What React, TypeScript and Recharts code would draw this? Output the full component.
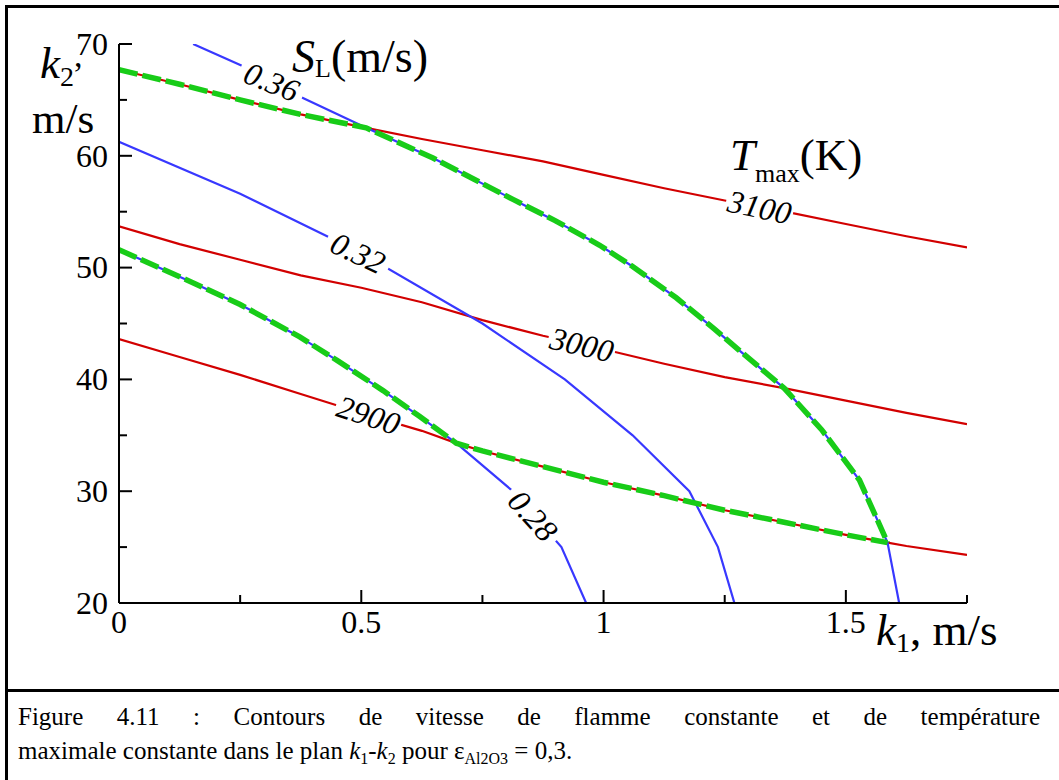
import React from 'react';
import { LineChart, Line, XAxis, YAxis, ReferenceDot } from 'recharts';

// k1 (m/s) / k2 (m/s) points
const t3100 = [
  { x: 0, y: 67.7 }, { x: 0.125, y: 66.4 }, { x: 0.25, y: 65.0 }, { x: 0.375, y: 63.7 },
  { x: 0.51, y: 62.5 }, { x: 0.625, y: 61.5 }, { x: 0.75, y: 60.5 }, { x: 0.875, y: 59.5 },
  { x: 1, y: 58.3 }, { x: 1.125, y: 57.1 }, { x: 1.25, y: 56.0 }, { x: 1.375, y: 55.0 },
  { x: 1.5, y: 53.9 }, { x: 1.625, y: 52.8 }, { x: 1.75, y: 51.8 },
];
const t3000 = [
  { x: 0, y: 53.7 }, { x: 0.125, y: 52.1 }, { x: 0.25, y: 50.7 }, { x: 0.375, y: 49.3 },
  { x: 0.5, y: 48.2 }, { x: 0.625, y: 46.9 }, { x: 0.75, y: 45.3 }, { x: 0.875, y: 43.9 },
  { x: 1, y: 42.7 }, { x: 1.125, y: 41.4 }, { x: 1.25, y: 40.2 }, { x: 1.375, y: 39.2 },
  { x: 1.5, y: 38.1 }, { x: 1.625, y: 37.0 }, { x: 1.75, y: 36.0 },
];
const t2900 = [
  { x: 0, y: 43.6 }, { x: 0.125, y: 42.0 }, { x: 0.25, y: 40.4 }, { x: 0.375, y: 38.7 },
  { x: 0.5, y: 37.0 }, { x: 0.625, y: 35.4 }, { x: 0.696, y: 34.3 }, { x: 0.75, y: 33.6 },
  { x: 0.875, y: 32.2 }, { x: 1, y: 30.8 }, { x: 1.125, y: 29.6 }, { x: 1.25, y: 28.3 },
  { x: 1.375, y: 27.2 }, { x: 1.5, y: 26.1 }, { x: 1.586, y: 25.4 }, { x: 1.625, y: 25.1 },
  { x: 1.75, y: 24.3 },
];
const s036 = [
  { x: 0.153, y: 70 }, { x: 0.256, y: 68.0 }, { x: 0.373, y: 65.3 }, { x: 0.51, y: 62.5 },
  { x: 0.648, y: 59.8 }, { x: 0.813, y: 56.1 }, { x: 0.9, y: 54.2 }, { x: 0.992, y: 52.0 },
  { x: 1.06, y: 50.1 }, { x: 1.15, y: 47.3 }, { x: 1.229, y: 44.5 }, { x: 1.28, y: 42.6 },
  { x: 1.373, y: 39.2 }, { x: 1.45, y: 35.5 }, { x: 1.528, y: 31.0 }, { x: 1.586, y: 25.4 },
  { x: 1.61, y: 20 },
];
const s032 = [
  { x: 0, y: 61.25 }, { x: 0.25, y: 56.6 }, { x: 0.5, y: 51.3 }, { x: 0.75, y: 45.0 },
  { x: 0.92, y: 40 }, { x: 1.06, y: 35 }, { x: 1.177, y: 30 }, { x: 1.236, y: 25 },
  { x: 1.27, y: 20 },
];
const s028 = [
  { x: 0, y: 51.6 }, { x: 0.14, y: 48.9 }, { x: 0.25, y: 46.7 }, { x: 0.373, y: 43.8 },
  { x: 0.45, y: 41.7 }, { x: 0.545, y: 39.0 }, { x: 0.62, y: 36.7 }, { x: 0.696, y: 34.3 },
  { x: 0.81, y: 30.1 }, { x: 0.913, y: 25 }, { x: 0.964, y: 20 },
];

// where the dashed green limits switch from one contour to the other
const upperKnee = 0.51;
const lowerKnee = 0.696;
const endK1 = 1.586;

const greenUpper = [
  ...t3100.filter((p) => p.x <= upperKnee),
  ...s036.filter((p) => p.x > upperKnee && p.x <= endK1),
];
const greenLower = [
  ...s028.filter((p) => p.x <= lowerKnee),
  ...t2900.filter((p) => p.x > lowerKnee && p.x <= endK1),
];

const xTicks = [0, 0.25, 0.5, 0.75, 1, 1.25, 1.5, 1.75];
const yTicks = [20, 25, 30, 35, 40, 45, 50, 55, 60, 65, 70];

const contourLabels = [
  { text: '0.36', x: 0.315, y: 66.6, angle: 22 },
  { text: '0.32', x: 0.493, y: 51.3, angle: 25 },
  { text: '0.28', x: 0.854, y: 27.8, angle: 48 },
  { text: '3100', x: 1.322, y: 55.4, angle: 12 },
  { text: '3000', x: 0.955, y: 43.1, angle: 13 },
  { text: '2900', x: 0.515, y: 36.8, angle: 18 },
];

const FONT = '"Liberation Serif", "Times New Roman", serif';
const RED = '#D20000';
const BLUE = '#3838FF';
const GREEN = '#18CC18';

function XTick(props: any) {
  const { x, y, payload } = props;
  const v = payload.value;
  const major = Math.abs(v * 2 - Math.round(v * 2)) < 1e-6;
  return (
    <g>
      <line x1={x} y1={y} x2={x} y2={y - (major ? 13 : 8)} stroke="#000" strokeWidth={2} />
      {major && (
        <text x={x} y={y + 30} textAnchor="middle" fontSize={32} fontFamily={FONT} fill="#000">
          {String(v)}
        </text>
      )}
    </g>
  );
}

function YTick(props: any) {
  const { x, y, payload } = props;
  const v = payload.value;
  const major = v % 10 === 0;
  return (
    <g>
      <line x1={x} y1={y} x2={x + (major ? 13 : 8)} y2={y} stroke="#000" strokeWidth={2} />
      {major && (
        <text x={x - 11} y={y} dy="0.34em" textAnchor="end" fontSize={32} fontFamily={FONT} fill="#000">
          {v}
        </text>
      )}
    </g>
  );
}

const labelShape = (text: string, angle: number) => (props: any) => {
  const { cx, cy } = props;
  const w = text.length * 16 + 4;
  return (
    <g transform={`translate(${cx},${cy}) rotate(${angle})`}>
      <rect x={-w / 2} y={-8} width={w} height={16} fill="#fff" />
      <text
        x={0}
        y={0}
        dy="0.34em"
        textAnchor="middle"
        fontSize={32}
        fontStyle="italic"
        fontFamily={FONT}
        fill="#000"
      >
        {text}
      </text>
    </g>
  );
};

export default function App() {
  return (
    <div
      style={{
        position: 'absolute',
        left: 0,
        top: 0,
        width: 1059,
        height: 780,
        overflow: 'hidden',
        background: '#fff',
        fontFamily: FONT,
      }}
    >
      <div
        style={{
          position: 'absolute',
          left: 5,
          top: 5,
          width: 1100,
          height: 820,
          border: '3px solid #000',
        }}
      />
      <div style={{ position: 'absolute', left: 5, top: 689, width: 1100, height: 3, background: '#000' }} />

      <div style={{ position: 'absolute', left: 0, top: 0 }}>
        <LineChart width={1059} height={690} margin={{ top: 44, right: 92, bottom: 47, left: 59 }}>
          <XAxis
            type="number"
            dataKey="x"
            domain={[0, 1.75]}
            ticks={xTicks}
            interval={0}
            allowDataOverflow
            height={40}
            tickSize={0}
            tickMargin={0}
            tickLine={false}
            axisLine={{ stroke: '#000', strokeWidth: 2 }}
            tick={<XTick />}
          />
          <YAxis
            type="number"
            dataKey="y"
            domain={[20, 70]}
            ticks={yTicks}
            interval={0}
            allowDataOverflow
            width={60}
            tickSize={0}
            tickMargin={0}
            tickLine={false}
            axisLine={{ stroke: '#000', strokeWidth: 2 }}
            tick={<YTick />}
          />
          <Line data={t3100} dataKey="y" stroke={RED} strokeWidth={2.2} dot={false} isAnimationActive={false} />
          <Line data={t3000} dataKey="y" stroke={RED} strokeWidth={2.2} dot={false} isAnimationActive={false} />
          <Line data={t2900} dataKey="y" stroke={RED} strokeWidth={2.2} dot={false} isAnimationActive={false} />
          <Line data={s036} dataKey="y" stroke={BLUE} strokeWidth={2.2} dot={false} isAnimationActive={false} />
          <Line data={s032} dataKey="y" stroke={BLUE} strokeWidth={2.2} dot={false} isAnimationActive={false} />
          <Line data={s028} dataKey="y" stroke={BLUE} strokeWidth={2.2} dot={false} isAnimationActive={false} />
          <Line
            data={greenUpper}
            dataKey="y"
            stroke={GREEN}
            strokeWidth={5.5}
            strokeDasharray="19 5"
            dot={false}
            isAnimationActive={false}
          />
          <Line
            data={greenLower}
            dataKey="y"
            stroke={GREEN}
            strokeWidth={5.5}
            strokeDasharray="19 5"
            dot={false}
            isAnimationActive={false}
          />
          {contourLabels.map((l) => (
            <ReferenceDot key={l.text} x={l.x} y={l.y} r={0} shape={labelShape(l.text, l.angle)} />
          ))}
        </LineChart>
      </div>

      <svg
        width={1059}
        height={690}
        style={{ position: 'absolute', left: 0, top: 0, pointerEvents: 'none' }}
        fontFamily={FONT}
      >
        <text x={40} y={78} fontSize={45} fill="#000">
          <tspan fontStyle="italic">k</tspan>
          <tspan fontSize={28} dy={8}>2</tspan>
          <tspan fontSize={34} dy={-19}>,</tspan>
        </text>
        <text x={32} y={133} fontSize={43} fill="#000">m/s</text>

        <text x={292} y={72} fontSize={46} fill="#000">
          <tspan fontStyle="italic">S</tspan>
          <tspan fontSize={26} dy={5}>L</tspan>
          <tspan dy={-5}>(m/s)</tspan>
        </text>

        <text x={730} y={170} fontSize={45} fill="#000">
          <tspan fontStyle="italic">T</tspan>
          <tspan fontSize={26} dy={12}>max</tspan>
          <tspan dy={-12}>(K)</tspan>
        </text>

        <text x={876} y={645} fontSize={45} fill="#000">
          <tspan fontStyle="italic">k</tspan>
          <tspan fontSize={28} dy={7}>1</tspan>
          <tspan dy={-7}>, m/s</tspan>
        </text>
      </svg>

      <div
        style={{
          position: 'absolute',
          left: 18,
          top: 704,
          width: 1022,
          fontSize: 25,
          lineHeight: '25px',
          textAlign: 'justify',
          textAlignLast: 'justify',
          whiteSpace: 'nowrap',
        }}
      >
        Figure 4.11 : Contours de vitesse de flamme constante et de température
      </div>
      <div
        style={{
          position: 'absolute',
          left: 18,
          top: 738,
          fontSize: 25,
          lineHeight: '25px',
          whiteSpace: 'nowrap',
        }}
      >
        maximale constante dans le plan <i>k</i>
        <span style={{ fontSize: 16, position: 'relative', top: 5 }}>1</span>-<i>k</i>
        <span style={{ fontSize: 16, position: 'relative', top: 5 }}>2</span> pour ε
        <span style={{ fontSize: 16, position: 'relative', top: 5 }}>Al2O3</span> = 0,3.
      </div>
    </div>
  );
}
